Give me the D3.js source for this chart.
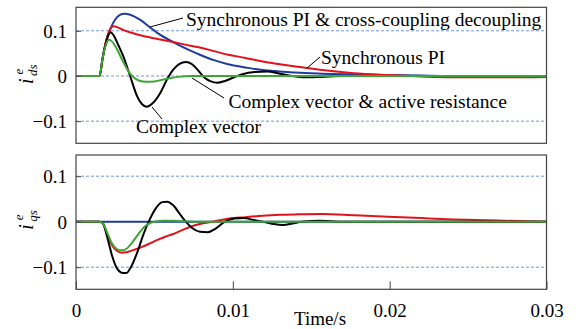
<!DOCTYPE html>
<html>
<head>
<meta charset="utf-8">
<script src="https://cdn.jsdelivr.net/npm/d3@7"></script>
<style>
  body { margin: 0; background: #fff; }
  svg { display: block; }
</style>
</head>
<body>
<svg id="chart" width="578" height="329"></svg>
<script>
// ---- data -------------------------------------------------------------
const xTicks = [0, 0.01, 0.02, 0.03];
const xTickLabels = ["0", "0.01", "0.02", "0.03"];
const yTicks = [-0.1, 0, 0.1];
const yTickLabels = ["\u22120.1", "0", "0.1"];
const xAxisTitle = "Time/s";

// d-axis current response, [time (s), current]
const idsDecoupled = [[0,0],[0.0015,0],[0.0017,0.040],[0.0019,0.074],[0.0022,0.105],[0.0025,0.125],
  [0.0028,0.135],[0.0031,0.138],[0.0035,0.135],[0.0041,0.124],[0.0047,0.108],[0.0052,0.095],
  [0.0062,0.075],[0.0073,0.056],[0.0079,0.047],[0.0088,0.035],[0.0097,0.026],[0.0108,0.019],
  [0.0119,0.013],[0.0130,0.010],[0.0140,0.0075],[0.0157,0.005],[0.0178,0.003],[0.0200,0.002],
  [0.0220,0.001],[0.0250,0],[0.0300,0]];
const idsSyncPI = [[0,0],[0.0015,0],[0.0017,0.040],[0.0019,0.075],[0.0021,0.098],[0.0024,0.110],
  [0.0027,0.107],[0.0030,0.102],[0.0036,0.095],[0.0041,0.090],[0.0052,0.082],[0.0062,0.075],
  [0.0073,0.067],[0.0079,0.063],[0.0088,0.055],[0.0097,0.047],[0.0108,0.040],[0.0119,0.032],
  [0.0130,0.026],[0.0140,0.021],[0.0157,0.013],[0.0177,0.006],[0.0199,0.002],[0.0220,-0.001],
  [0.0250,-0.003],[0.0275,-0.003],[0.0300,-0.002]];
const idsComplex = [[0,0],[0.0015,0],[0.0017,0.040],[0.0019,0.072],[0.0021,0.093],[0.0022,0.097],
  [0.0024,0.090],[0.0027,0.068],[0.0030,0.045],[0.00345,0],[0.0039,-0.045],[0.0042,-0.062],
  [0.0045,-0.068],[0.0049,-0.060],[0.0054,-0.036],[0.0058,-0.008],[0.0062,0.014],[0.0066,0.027],
  [0.0070,0.031],[0.0074,0.026],[0.0078,0.012],[0.0082,-0.004],[0.0086,-0.012],[0.0090,-0.015],
  [0.0095,-0.011],[0.0100,-0.004],[0.0106,0.004],[0.0114,0.009],[0.0122,0.010],[0.0130,0.005],
  [0.0138,0],[0.0146,-0.003],[0.0156,-0.002],[0.0170,0],[0.0300,0]];
const idsActiveR = [[0,0],[0.0015,0],[0.0017,0.040],[0.0019,0.068],[0.0021,0.080],[0.0023,0.076],
  [0.0026,0.060],[0.0030,0.032],[0.0035,0.003],[0.0040,-0.010],[0.0045,-0.013],[0.0050,-0.012],
  [0.0058,-0.006],[0.0065,-0.002],[0.0075,0],[0.0300,0]];

// q-axis current response, [time (s), current]
const iqsDecoupled = [[0,0],[0.0300,0]];
const iqsSyncPI = [[0,0],[0.0015,0],[0.0017,-0.003],[0.0020,-0.028],[0.0023,-0.052],[0.0026,-0.064],
  [0.0029,-0.068],[0.0032,-0.067],[0.0036,-0.063],[0.0041,-0.057],[0.0047,-0.048],[0.0052,-0.040],
  [0.0057,-0.033],[0.0062,-0.027],[0.0068,-0.018],[0.0073,-0.011],[0.0079,-0.005],[0.0087,0],
  [0.0097,0.0066],[0.0108,0.010],[0.0119,0.013],[0.0130,0.015],[0.0140,0.016],[0.0157,0.017],
  [0.0178,0.014],[0.0199,0.011],[0.0220,0.008],[0.0241,0.005],[0.0273,0.002],[0.0300,0]];
const iqsComplex = [[0,0],[0.0015,0],[0.0017,-0.003],[0.0020,-0.035],[0.0023,-0.075],[0.0026,-0.102],
  [0.0029,-0.112],[0.0032,-0.113],[0.0035,-0.100],[0.0039,-0.068],[0.0043,-0.028],[0.0047,0.005],
  [0.0051,0.030],[0.0055,0.043],[0.0058,0.044],[0.0062,0.036],[0.0066,0.018],[0.0070,0],
  [0.0074,-0.014],[0.0079,-0.022],[0.0084,-0.023],[0.0089,-0.015],[0.0095,0],[0.0101,0.007],
  [0.0107,0.008],[0.0113,0.004],[0.0119,0],[0.0126,-0.005],[0.0132,-0.007],[0.0138,-0.004],
  [0.0144,0],[0.0155,0.002],[0.0170,0],[0.0300,0]];
const iqsActiveR = [[0,0],[0.0015,0],[0.0017,-0.003],[0.0020,-0.025],[0.0023,-0.048],[0.0026,-0.060],
  [0.0029,-0.063],[0.0032,-0.060],[0.0036,-0.045],[0.0040,-0.026],[0.0044,-0.010],[0.0048,-0.002],
  [0.0055,0.002],[0.0062,0.002],[0.0075,0],[0.0300,0]];

// ---- layout -----------------------------------------------------------
const svg = d3.select("#chart");
const FONT = "'Liberation Serif','Times New Roman',serif";
const left = 76, right = 546.5;
const colors = { decoupled: "#1c3c9e", sync: "#e2121c", complex: "#000000", active: "#3ca533" };

const x = d3.scaleLinear().domain([0, 0.03]).range([left, right]);

const panels = [
  { top: 7.3, bottom: 143.3, domain: [-0.149, 0.152], sub: "ds",
    series: [[idsDecoupled, colors.decoupled], [idsSyncPI, colors.sync],
             [idsComplex, colors.complex], [idsActiveR, colors.active]], xTicks: false },
  { top: 155, bottom: 289.3, domain: [-0.1486, 0.1466], sub: "qs",
    series: [[iqsDecoupled, colors.decoupled], [iqsSyncPI, colors.sync],
             [iqsComplex, colors.complex], [iqsActiveR, colors.active]], xTicks: true }
];

panels.forEach(p => {
  const y = d3.scaleLinear().domain(p.domain).range([p.bottom, p.top]);
  const g = svg.append("g");

  // dashed reference lines
  g.selectAll("line.grid").data(yTicks).join("line")
    .attr("x1", left).attr("x2", right)
    .attr("y1", d => y(d)).attr("y2", d => y(d))
    .attr("stroke", "#6f97e3").attr("stroke-width", 1)
    .attr("stroke-dasharray", "3,2");

  // response curves
  const line = d3.line().x(d => x(d[0])).y(d => y(d[1])).curve(d3.curveMonotoneX);
  p.series.forEach(([data, c]) => {
    g.append("path").datum(data)
      .attr("d", line).attr("fill", "none")
      .attr("stroke", c).attr("stroke-width", 2)
      .attr("stroke-linejoin", "round");
  });

  // frame
  g.append("rect")
    .attr("x", left).attr("y", p.top)
    .attr("width", right - left).attr("height", p.bottom - p.top)
    .attr("fill", "none").attr("stroke", "#444").attr("stroke-width", 1.2);

  // left axis with inward ticks
  const yAxis = d3.axisLeft(y).tickValues(yTicks)
    .tickFormat((d, i) => yTickLabels[i]).tickSizeInner(-5).tickSizeOuter(0).tickPadding(9);
  const ya = g.append("g").attr("transform", `translate(${left},0)`).call(yAxis);
  ya.select(".domain").remove();
  ya.selectAll(".tick line").attr("stroke", "#444");
  ya.selectAll(".tick text").attr("font-family", FONT).attr("font-size", 19)
    .attr("fill", "#000").attr("dy", "0.34em");

  if (p.xTicks) {
    const xAxis = d3.axisBottom(x).tickValues(xTicks)
      .tickFormat((d, i) => xTickLabels[i]).tickSizeInner(-8).tickSizeOuter(0).tickPadding(14);
    const xa = g.append("g").attr("transform", `translate(0,${p.bottom})`).call(xAxis);
    xa.select(".domain").remove();
    xa.selectAll(".tick line").attr("stroke", "#444");
    xa.selectAll(".tick text").attr("font-family", FONT).attr("font-size", 19)
      .attr("fill", "#000").attr("dy", "0.71em");
  }

  // rotated y label: i with superscript e and subscript ds / qs
  const lab = svg.append("g")
    .attr("transform", `translate(33,${y(0) + 8})rotate(-90)`)
    .attr("font-family", FONT).attr("font-style", "italic").attr("fill", "#000");
  lab.append("text").attr("x", 0).attr("y", 0).attr("font-size", 20).text("i");
  lab.append("text").attr("x", 9.5).attr("y", -10).attr("font-size", 13).text("e");
  lab.append("text").attr("x", 8).attr("y", 3.5).attr("font-size", 13).text(p.sub);
});

// x-axis title
svg.append("text").attr("x", 320).attr("y", 325)
  .attr("text-anchor", "middle").attr("font-family", FONT).attr("font-size", 19)
  .text(xAxisTitle);

// ---- annotations -----------------------------------------------------
const notes = [
  { text: "Synchronous PI & cross-coupling decoupling", tx: 186, ty: 25.5, line: [150, 27, 183, 18] },
  { text: "Synchronous PI", tx: 321, ty: 63.5, line: [306.7, 68.3, 320, 57] },
  { text: "Complex vector & active resistance", tx: 228.5, ty: 107.5, line: [192, 78, 224, 98] },
  { text: "Complex vector", tx: 136, ty: 133, line: [152, 107, 162, 119] }
];
notes.forEach(n => {
  svg.append("line")
    .attr("x1", n.line[0]).attr("y1", n.line[1]).attr("x2", n.line[2]).attr("y2", n.line[3])
    .attr("stroke", "#000").attr("stroke-width", 1);
  svg.append("text").attr("x", n.tx).attr("y", n.ty)
    .attr("font-family", FONT).attr("font-size", 19.5).attr("fill", "#000")
    .text(n.text);
});
</script>
</body>
</html>
